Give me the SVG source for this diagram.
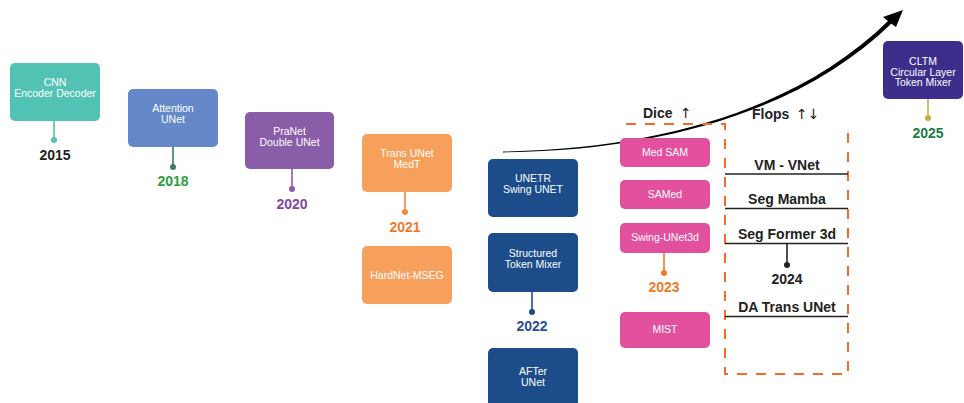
<svg xmlns="http://www.w3.org/2000/svg" width="964" height="403" viewBox="0 0 964 403">
<style>
.bx{font-family:"Liberation Sans",Arial,sans-serif;font-size:10.5px;fill:#fff;text-anchor:middle}
.yr{font-family:"Liberation Sans",Arial,sans-serif;font-size:14px;font-weight:bold;text-anchor:middle}
.fl{font-family:"Liberation Sans",Arial,sans-serif;font-size:14px;font-weight:bold;fill:#222;text-anchor:middle}
.hd{font-family:"Liberation Sans","DejaVu Sans",sans-serif;font-size:14px;font-weight:bold;fill:#222}
.ar{font-family:"DejaVu Sans",sans-serif;font-weight:normal;font-size:14px}
.stem{stroke-width:1.6;fill:none}
.ul{stroke:#222;stroke-width:1.6}
</style>
<rect width="964" height="403" fill="#fff"/>

<g id="connectors">
  <line class="stem" x1="54" y1="121" x2="54" y2="140" stroke="#52C2B4"/><circle cx="54" cy="140" r="3" fill="#52C2B4"/>
  <line class="stem" x1="173" y1="147" x2="173" y2="167" stroke="#3F7A5C"/><circle cx="173" cy="167" r="3" fill="#3F7A5C"/>
  <line class="stem" x1="292" y1="169" x2="292" y2="189" stroke="#8A5DA8"/><circle cx="292" cy="189" r="3" fill="#8A5DA8"/>
  <line class="stem" x1="405" y1="192" x2="405" y2="212" stroke="#F28A3C"/><circle cx="405" cy="212" r="3" fill="#F28A3C"/>
  <line class="stem" x1="532" y1="292" x2="532" y2="312" stroke="#1C4D8A"/><circle cx="532" cy="312" r="3" fill="#1C4D8A"/>
  <line class="stem" x1="664" y1="253" x2="664" y2="273" stroke="#F07A2A"/><circle cx="664" cy="273" r="3" fill="#F07A2A"/>
  <line class="stem" x1="787" y1="243" x2="787" y2="265" stroke="#222"/><circle cx="787" cy="265" r="3" fill="#222"/>
  <line class="stem" x1="928" y1="99" x2="928" y2="118" stroke="#C8B040"/><circle cx="928" cy="118" r="3" fill="#C8B040"/>
  <path d="M503,151.6 C660,149.2 799.2,108.6 888.5,20.6 L891.5,23.4 C800.8,111.4 660,150.8 503,152.4 Z" fill="#000"/>
  <polygon points="903,10 883,17 889,22 896,27" fill="#000"/>
  <path d="M626,124 H725 V374 H848 V124" fill="none" stroke="#F26B2A" stroke-width="2" stroke-dasharray="10,9"/>
</g>

<g id="n2015">
  <rect x="10" y="63" width="90" height="58" rx="5" fill="#52C2B4"/>
  <text class="bx" x="55" y="86">CNN</text>
  <text class="bx" x="55" y="97">Encoder Decoder</text>
  <text class="yr" x="55" y="160" fill="#222">2015</text>
</g>
<g id="n2018">
  <rect x="128" y="89" width="90" height="58" rx="5" fill="#6588C8"/>
  <text class="bx" x="173" y="112">Attention</text>
  <text class="bx" x="173" y="123">UNet</text>
  <text class="yr" x="173" y="186" fill="#2AA040">2018</text>
</g>
<g id="n2020">
  <rect x="245" y="112" width="89" height="57" rx="5" fill="#8A5DA8"/>
  <text class="bx" x="289.5" y="135">PraNet</text>
  <text class="bx" x="289.5" y="146">Double UNet</text>
  <text class="yr" x="292" y="209" fill="#7A4AA0">2020</text>
</g>
<g id="n2021">
  <rect x="362" y="134" width="90" height="58" rx="5" fill="#F7A05C"/>
  <text class="bx" x="407" y="157">Trans UNet</text>
  <text class="bx" x="407" y="168">MedT</text>
  <text class="yr" x="405" y="232" fill="#F07A2A">2021</text>
</g>
<g id="hardnet">
  <rect x="362" y="246" width="90" height="58" rx="5" fill="#F7A05C"/>
  <text class="bx" x="407" y="279">HardNet-MSEG</text>
</g>
<g id="unetr">
  <rect x="488" y="159" width="90" height="58" rx="5" fill="#1C4D8A"/>
  <text class="bx" x="533" y="182">UNETR</text>
  <text class="bx" x="533" y="193">Swing UNET</text>
</g>
<g id="n2022">
  <rect x="488" y="233" width="90" height="59" rx="5" fill="#1C4D8A"/>
  <text class="bx" x="533" y="257">Structured</text>
  <text class="bx" x="533" y="268">Token Mixer</text>
  <text class="yr" x="532" y="331" fill="#2B4D9C">2022</text>
</g>
<g id="after">
  <rect x="488" y="348" width="90" height="65" rx="5" fill="#1C4D8A"/>
  <text class="bx" x="533" y="375">AFTer</text>
  <text class="bx" x="533" y="386">UNet</text>
</g>

<g id="dice">
  <text class="hd" x="643" y="118">Dice <tspan class="ar" x="680">↑</tspan></text>
</g>
<g id="medsam">
  <rect x="620" y="138" width="90" height="29" rx="5" fill="#E2509E"/>
  <text class="bx" x="665" y="156">Med SAM</text>
</g>
<g id="samed">
  <rect x="620" y="180" width="90" height="29" rx="5" fill="#E2509E"/>
  <text class="bx" x="665" y="198">SAMed</text>
</g>
<g id="n2023">
  <rect x="620" y="223" width="90" height="30" rx="5" fill="#E2509E"/>
  <text class="bx" x="665" y="241">Swing-UNet3d</text>
  <text class="yr" x="664" y="292" fill="#F07A2A">2023</text>
</g>
<g id="mist">
  <rect x="620" y="312" width="90" height="36" rx="5" fill="#E2509E"/>
  <text class="bx" x="665" y="333">MIST</text>
</g>

<g id="flops">
  <text class="hd" x="752" y="119">Flops <tspan class="ar" x="796">↑↓</tspan></text>
</g>
<g id="vmvnet">
  <text class="fl" x="787" y="170">VM - VNet</text>
  <line class="ul" x1="725" y1="174" x2="848" y2="174"/>
</g>
<g id="segmamba">
  <text class="fl" x="787" y="204">Seg Mamba</text>
  <line class="ul" x1="725" y1="208.5" x2="848" y2="208.5"/>
</g>
<g id="n2024">
  <text class="fl" x="787" y="239">Seg Former 3d</text>
  <line class="ul" x1="725" y1="243.5" x2="848" y2="243.5"/>
  <text class="fl" x="787" y="284">2024</text>
</g>
<g id="datrans">
  <text class="fl" x="787" y="312">DA Trans UNet</text>
  <line class="ul" x1="725" y1="316.5" x2="848" y2="316.5"/>
</g>

<g id="n2025">
  <rect x="883" y="41" width="80" height="58" rx="5" fill="#3D2E8C"/>
  <text class="bx" x="923" y="65">CLTM</text>
  <text class="bx" x="923" y="75.5">Circular Layer</text>
  <text class="bx" x="923" y="86">Token Mixer</text>
  <text class="yr" x="928" y="138" fill="#1A7A4A">2025</text>
</g>
</svg>
